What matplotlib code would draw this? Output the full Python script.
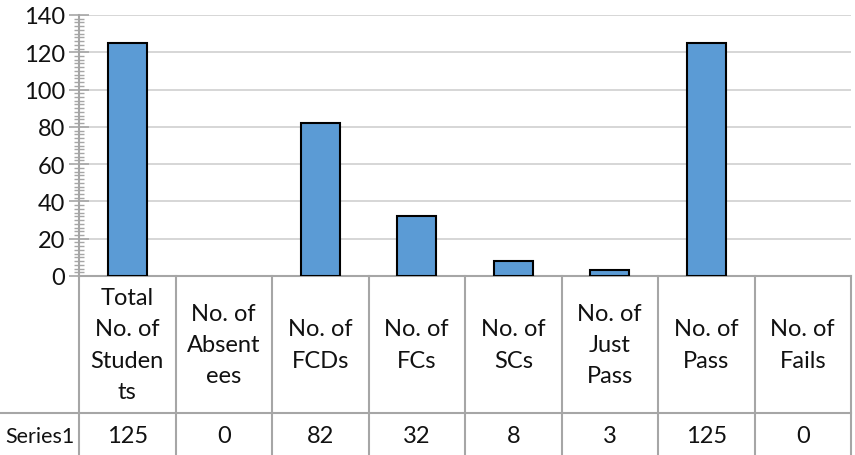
import matplotlib
matplotlib.use("Agg")
from matplotlib import pyplot as plt
from matplotlib.lines import Line2D
import numpy as np

categories = ["Total\nNo. of\nStuden\nts", "No. of\nAbsent\nees", "No. of\nFCDs", "No. of\nFCs",
              "No. of\nSCs", "No. of\nJust\nPass", "No. of\nPass", "No. of\nFails"]
series_name = "Series1"
values = [125, 0, 82, 32, 8, 3, 125, 0]
y_ticks = [0, 20, 40, 60, 80, 100, 120, 140]

plt.rcParams['font.family'] = ['Lato', 'DejaVu Sans']
W, H = 855, 456
fs = 17
fig = plt.figure(figsize=(W / 100, H / 100), dpi=100)

# plot area in pixels: x 79..851, y 16..277
ax = fig.add_axes([79 / W, 1 - 277 / H, (851 - 79) / W, (277 - 16) / H])
x = np.arange(len(values))
edges = ['black' if v > 0 else 'none' for v in values]
ax.bar(x, values, width=0.4, color='#5B9BD5', edgecolor=edges, linewidth=1.5, zorder=3)

ax.set_xlim(-0.5, len(values) - 0.5)
ax.set_ylim(0, 140)
ax.set_yticks(y_ticks)
ax.set_yticks(np.arange(0, 141, 2), minor=True)
ax.set_xticks([])
ax.grid(axis='y', color='#D0D0D0', linewidth=1.2, zorder=0)
ax.tick_params(axis='y', which='major', direction='inout', length=14, width=1.2,
               color='#A6A6A6', labelsize=fs, labelcolor='#111111', pad=3)
ax.tick_params(axis='y', which='minor', direction='inout', length=7, width=1,
               color='#A6A6A6')
for s in ['top', 'right']:
    ax.spines[s].set_visible(False)
for s in ['left', 'bottom']:
    ax.spines[s].set_color('#A6A6A6')
    ax.spines[s].set_linewidth(1.5)

# data table under the chart
axh = 277 - 16
def fy(px):
    return (277 - px) / axh

trans = ax.get_xaxis_transform()
for b in np.arange(-0.5, len(values), 1.0):
    ax.plot([b, b], [0, fy(456)], color='#A6A6A6', linewidth=1.5,
            transform=trans, clip_on=False)
fig.add_artist(Line2D([0, 851 / W], [1 - 414 / H, 1 - 414 / H],
                      color='#A6A6A6', linewidth=1.5))

for i, (c, v) in enumerate(zip(categories, values)):
    ax.text(i, fy(345.5), c, transform=trans, ha='center', va='center',
            fontsize=fs, color='#111111', linespacing=1.6)
    ax.text(i, fy(437), str(v), transform=trans, ha='center', va='center',
            fontsize=fs, color='#111111')
# row label sits in the left margin, right edge just before the table
fig.text(75 / W, 1 - 437 / H, series_name, ha='right', va='center',
         fontsize=15.5, color='#111111')

fig.savefig("out.png", dpi=100)
